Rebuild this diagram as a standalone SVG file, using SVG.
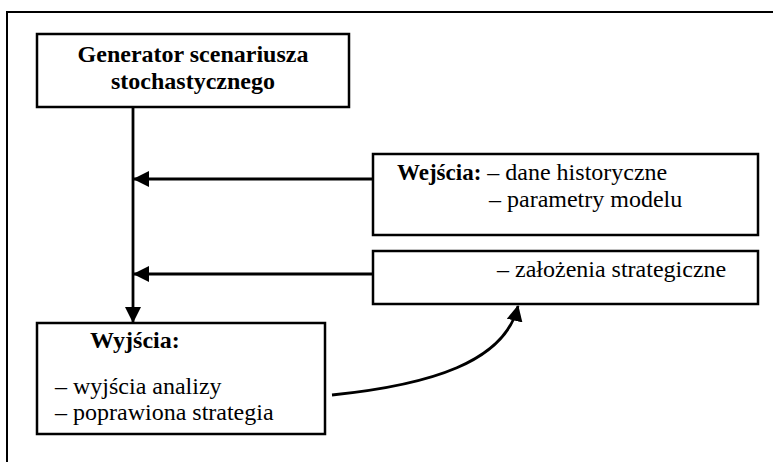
<svg xmlns="http://www.w3.org/2000/svg" width="773" height="462" viewBox="0 0 773 462">
<style>
.box{fill:#fff;stroke:#000;stroke-width:2.5}
.frame{fill:none;stroke:#000;stroke-width:2}
.conn{fill:none;stroke:#000;stroke-width:2.8}
text{font-family:"Liberation Serif","Times New Roman",serif;font-size:24px;fill:#000}
.b{font-weight:bold}
</style>
<defs>
<marker id="ah" viewBox="0 0 16 16" refX="15" refY="8" markerWidth="16" markerHeight="16" markerUnits="userSpaceOnUse" orient="auto">
<path d="M0,0 L16,8 L0,16 Z" fill="#000"/>
</marker>
</defs>
<rect width="773" height="462" fill="#fff"/>
<path class="frame" d="M7,462 V12 H773"/>
<g id="generator">
<rect class="box" x="37" y="34" width="312" height="73"/>
<text class="b" x="193" y="62" text-anchor="middle">Generator scenariusza</text>
<text class="b" x="193" y="89" text-anchor="middle">stochastycznego</text>
</g>
<g id="wejscia">
<rect class="box" x="373" y="154" width="385" height="81"/>
<text x="397" y="180"><tspan class="b" font-size="23">Wejścia:</tspan> – dane historyczne</text>
<text x="489" y="207">– parametry modelu</text>
</g>
<g id="zalozenia">
<rect class="box" x="373" y="251" width="385" height="53"/>
<text x="497" y="277">– założenia strategiczne</text>
</g>
<g id="wyjscia">
<rect class="box" x="37" y="323" width="288" height="111"/>
<text class="b" x="90" y="348" font-size="23">Wyjścia:</text>
<text x="55" y="394">– wyjścia analizy</text>
<text x="55" y="420">– poprawiona strategia</text>
</g>
<g id="connectors">
<line class="conn" x1="133" y1="107" x2="133" y2="322" marker-end="url(#ah)"/>
<line class="conn" x1="373" y1="179" x2="134" y2="179" marker-end="url(#ah)"/>
<line class="conn" x1="373" y1="274" x2="134" y2="274" marker-end="url(#ah)"/>
<path class="conn" d="M332,395 C430,385 505,362 518,306" marker-end="url(#ah)"/>
</g>
</svg>
